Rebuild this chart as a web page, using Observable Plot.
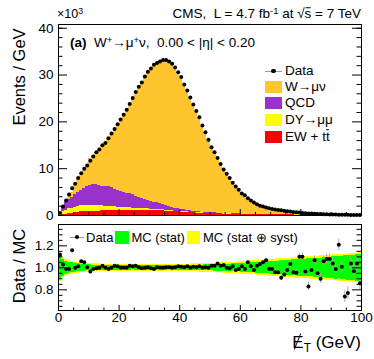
<!DOCTYPE html>
<html><head><meta charset="utf-8">
<script src="https://cdn.jsdelivr.net/npm/d3@7"></script>
<script src="https://cdn.jsdelivr.net/npm/@observablehq/plot@0.6"></script>
<style>
body{margin:0;background:#fff;}
#c{position:relative;width:374px;height:359px;font-family:"Liberation Sans",Arial,Helvetica,sans-serif;color:#000;overflow:hidden;}
.t{position:absolute;white-space:nowrap;line-height:1;}
.box{position:absolute;}
sup{font-size:70%;vertical-align:0;position:relative;top:-0.45em;}
.ov{display:inline-block;position:relative;}
.ov::before{content:"";position:absolute;left:0.5px;right:0.5px;top:-0.5px;height:1px;background:#000;}
</style></head><body><div id="c"></div>
<script>
// ---- data (1 GeV bins, 0..100 GeV) ----
const binLow = d3.range(0, 100);
const dataVals = [0.55,1.9,3.2,4.5,5.8,6.8,8.0,9.0,10.0,10.7, 11.7,12.6,13.5,14.1,15.0,15.5,16.5,17.5,18.5,19.5, 20.5,21.5,22.6,23.8,25.1,26.4,27.5,28.4,29.7,30.7, 31.4,32.2,32.6,32.9,33.2,33.2,32.9,32.4,31.6,30.6, 29.6,28.0,26.7,25.2,23.7,22.3,21.0,19.2,17.8,16.2, 14.6,13.5,12.3,11.0,9.8,8.9,8.0,7.0,6.2,5.5, 4.7,4.3,3.7,3.2,2.8,2.4,2.1,1.9,1.7,1.55, 1.4,1.3,1.2,1.1,1.0,0.92,0.84,0.76,0.68,0.62, 0.56,0.5,0.45,0.41,0.37,0.33,0.3,0.27,0.25,0.23, 0.21,0.19,0.17,0.16,0.15,0.14,0.13,0.12,0.11,0.1];
const ewVals = [0.05,0.2,0.3,0.4,0.5,0.6,0.68,0.75,0.8,0.85, 0.88,0.9,0.93,0.95,0.98,1.0,1.02,1.05,1.07,1.08, 1.1,1.1,1.1,1.12,1.12,1.12,1.1,1.1,1.1,1.08, 1.08,1.05,1.02,1.0,0.97,0.93,0.9,0.86,0.8,0.75, 0.72,0.68,0.64,0.6,0.56,0.53,0.5,0.47,0.45,0.42, 0.4,0.38,0.36,0.34,0.32,0.3,0.29,0.27,0.26,0.25, 0.24,0.23,0.22,0.21,0.2,0.19,0.18,0.17,0.16,0.15, 0.15,0.14,0.13,0.13,0.12,0.12,0.11,0.11,0.1,0.1, 0.09,0.09,0.08,0.08,0.08,0.07,0.07,0.07,0.06,0.06, 0.06,0.06,0.05,0.05,0.05,0.05,0.05,0.04,0.04,0.04];
const dyVals = [0.15,0.55,0.85,1.0,1.1,1.2,1.25,1.28,1.3,1.3, 1.27,1.25,1.17,1.15,1.07,1.0,0.98,0.9,0.83,0.72, 0.65,0.6,0.55,0.53,0.48,0.48,0.45,0.4,0.35,0.32, 0.27,0.27,0.26,0.22,0.21,0.19,0.18,0.14,0.15,0.13, 0.12,0.12,0.11,0.1,0.1,0.09,0.08,0.08,0.07,0.07, 0.06,0.06,0.05,0.05,0.05,0.04,0.04,0.04,0.04,0.03, 0.03,0.03,0.03,0.03,0.02,0.02,0.02,0.02,0.02,0.02, 0.02,0.02,0.02,0.01,0.01,0.01,0.01,0.01,0.01,0.01, 0.01,0.01,0.01,0.01,0.01,0.01,0.01,0.01,0.01,0.01, 0.01,0.01,0.01,0.01,0,0,0,0,0,0];
const qcdVals = [0.25,0.95,1.6,2.0,2.3,2.6,2.9,3.3,3.7,4.1, 4.3,4.5,4.5,4.4,4.25,4.2,4.3,3.95,3.7,3.6, 3.45,3.3,3.15,2.95,2.8,2.5,2.35,2.1,1.95,1.8, 1.65,1.53,1.42,1.28,1.12,0.98,0.92,0.8,0.65,0.57, 0.51,0.4,0.35,0.3,0.24,0.23,0.2,0.18,0.15,0.13, 0.12,0.1,0.1,0.09,0.08,0.07,0.07,0.06,0.06,0.05, 0.05,0.05,0.04,0.04,0.04,0.03,0.03,0.03,0.03,0.03, 0.03,0.02,0.02,0.02,0.02,0.02,0.02,0.02,0.02,0.01, 0.01,0.01,0.01,0.01,0.01,0.01,0.01,0.01,0.01,0.01, 0.01,0.01,0.01,0.01,0.01,0.01,0.01,0.01,0.01,0.01];
const wVals = [0.04,0.15,0.45,1.15,1.1,2.4,3.05,3.16,3.72,4.4, 5.65,6.08,6.94,7.6,8.4,9.3,10.37,11.6,12.54,13.81, 15.3,16.5,17.8,18.73,20.33,21.78,23.46,24.89,26.3,27.35, 28.49,29.68,29.74,30.4,30.9,30.93,30.74,30.6,29.84,28.7, 27.96,26.66,25.2,24.2,22.57,21.34,19.91,18.47,17.04,15.58, 13.73,12.7,11.32,10.3,9.11,8.49,7.62,6.53,5.97,5.23, 4.31,4.03,3.23,2.87,2.6,2.11,1.8,1.59,1.38,1.37, 1.21,1.17,1.08,1.05,0.91,0.79,0.67,0.65,0.58,0.44, 0.4,0.41,0.44,0.32,0.25,0.26,0.24,0.16,0.15,0.13, 0.12,0.11,0.07,0.09,0.14,0.12,0.065,0.074,0.056,0.066];
const ratioVals = [1.12,1.03,0.99,0.99,1.16,1.0,1.015,1.06,1.05,1.005, 0.967,0.99,0.997,1.0,1.02,1.0,0.99,1.0,1.02,1.015, 1.0,1.0,1.0,1.02,1.015,1.02,1.005,0.997,1.0,1.005, 0.997,0.99,1.005,1.0,1.0,1.005,1.005,1.0,1.005,1.015, 1.01,1.005,1.015,1.0,1.01,1.005,1.015,1.0,1.005,1.0, 1.02,1.02,1.04,1.02,1.025,1.0,0.997,1.015,0.98,0.99, 1.015,0.99,1.05,1.015,0.98,1.02,1.035,1.05,1.07,0.99, 0.99,0.96,0.96,0.91,0.94,0.98,1.035,0.96,0.955,1.1, 1.1,0.967,0.83,0.98,1.07,0.95,0.9,1.06,1.08,1.08, 1.04,0.99,1.21,1.01,0.74,0.77,1.04,0.97,1.04,0.86];
const ratioErr = [0.02,0.012,0.009,0.008,0.007,0.006,0.006,0.005,0.005,0.005, 0.005,0.005,0.005,0.005,0.005,0.005,0.005,0.005,0.005,0.005, 0.005,0.005,0.005,0.005,0.005,0.005,0.005,0.005,0.005,0.005, 0.005,0.005,0.005,0.005,0.005,0.005,0.005,0.005,0.005,0.005, 0.005,0.005,0.005,0.005,0.005,0.006,0.006,0.006,0.006,0.007, 0.007,0.007,0.008,0.008,0.009,0.009,0.01,0.01,0.011,0.012, 0.012,0.013,0.014,0.015,0.016,0.017,0.018,0.019,0.02,0.021, 0.022,0.023,0.024,0.025,0.026,0.027,0.028,0.03,0.031,0.033, 0.034,0.035,0.036,0.038,0.039,0.04,0.042,0.043,0.045,0.046, 0.048,0.05,0.052,0.053,0.055,0.057,0.059,0.06,0.062,0.065];
const statVals = [0.11,0.08,0.06,0.05,0.045,0.04,0.035,0.032,0.03,0.028, 0.026,0.025,0.024,0.023,0.022,0.022,0.021,0.021,0.02,0.02, 0.02,0.019,0.02,0.02,0.019,0.02,0.02,0.019,0.02,0.02, 0.019,0.02,0.02,0.019,0.02,0.02,0.019,0.02,0.02,0.02, 0.02,0.021,0.021,0.022,0.022,0.023,0.024,0.025,0.026,0.027, 0.028,0.029,0.03,0.031,0.032,0.033,0.034,0.035,0.036,0.037, 0.038,0.04,0.042,0.044,0.046,0.048,0.05,0.052,0.054,0.056, 0.058,0.06,0.062,0.064,0.066,0.068,0.07,0.072,0.074,0.076, 0.078,0.08,0.083,0.081,0.086,0.089,0.087,0.092,0.095,0.097, 0.1,0.103,0.101,0.106,0.11,0.113,0.111,0.116,0.12,0.125];
const systVals = [0.12,0.09,0.075,0.065,0.058,0.052,0.048,0.045,0.043,0.041, 0.039,0.037,0.036,0.035,0.034,0.033,0.032,0.032,0.031,0.031, 0.03,0.03,0.03,0.03,0.03,0.03,0.03,0.03,0.03,0.03, 0.03,0.03,0.03,0.03,0.03,0.03,0.03,0.03,0.03,0.03, 0.031,0.032,0.033,0.034,0.035,0.036,0.037,0.038,0.039,0.04, 0.042,0.043,0.045,0.046,0.048,0.049,0.05,0.052,0.053,0.055, 0.057,0.059,0.061,0.063,0.065,0.067,0.069,0.071,0.073,0.075, 0.077,0.079,0.081,0.083,0.085,0.087,0.089,0.091,0.093,0.095, 0.097,0.099,0.101,0.103,0.105,0.107,0.109,0.111,0.113,0.115, 0.117,0.119,0.121,0.123,0.125,0.127,0.129,0.131,0.133,0.135];
const procNames = ["EW + tt̄", "DY→μμ", "QCD", "W→μν"];
const procColors = ["#ff0000", "#ffff00", "#9932cc", "#fec52e"];
const xMajor = [0, 20, 40, 60, 80, 100];
const xMinor = [5,10,15,25,30,35,45,50,55,65,70,75,85,90,95];
const yMajorTop = [0, 10, 20, 30, 40];
const yMinorTop = [2,4,6,8,12,14,16,18,22,24,26,28,32,34,36,38,40];
const yMajorRatio = [0.8, 1, 1.2];
const yMinorRatio = [0.65,0.7,0.75,0.85,0.9,0.95,1.05,1.1,1.15,1.25,1.3,1.35];

// ---- tables ----
const seriesVals = [ewVals, dyVals, qcdVals, wVals];
const stackRows = [];
procNames.forEach((p, k) => seriesVals[k].forEach((v, i) => stackRows.push({lo: binLow[i], hi: binLow[i] + 1, p, v})));
const pts = binLow.map((b, i) => ({c: b + 0.5, lo: b, hi: b + 1, d: dataVals[i], r: ratioVals[i], e: ratioErr[i], st: statVals[i], sy: systVals[i]}));

const FONT = "Liberation Sans, Arial, Helvetica, sans-serif";
const W = 374, ML = 58, MR = 13;
const FW = W - ML - MR;

function tickMarks(FH, yMaj, yMin, yMajLen, yMinLen, xMajLen, xMinLen) {
  return [
    Plot.tickY(yMaj, {y: d => d, insetRight: FW - yMajLen, stroke: "black"}),
    Plot.tickY(yMin, {y: d => d, insetRight: FW - yMinLen, stroke: "black"}),
    Plot.tickY(yMaj, {y: d => d, insetLeft: FW - yMajLen, stroke: "black"}),
    Plot.tickY(yMin, {y: d => d, insetLeft: FW - yMinLen, stroke: "black"}),
    Plot.tickX(xMajor, {x: d => d, insetTop: FH - xMajLen, stroke: "black"}),
    Plot.tickX(xMinor, {x: d => d, insetTop: FH - xMinLen, stroke: "black"})
  ];
}

const topH = 222, topMT = 24, topMB = 7;
const topPlot = Plot.plot({
  width: W, height: topH, marginLeft: ML, marginRight: MR, marginTop: topMT, marginBottom: topMB,
  style: {fontFamily: FONT, fontSize: "13.5px", background: "transparent", overflow: "visible"},
  x: {domain: [0, 100], axis: null},
  y: {domain: [0, 40.8], axis: null},
  color: {domain: procNames, range: procColors},
  marks: [
    Plot.rectY(stackRows, {x1: "lo", x2: "hi", y: "v", fill: "p", order: procNames, shapeRendering: "crispEdges"}),
    Plot.dot(pts, {x: "c", y: "d", r: 2, fill: "black", stroke: null}),
    ...tickMarks(topH - topMT - topMB, yMajorTop, yMinorTop, 9, 4.5, 6, 3),
    Plot.axisY({ticks: yMajorTop, tickSize: 0, tickPadding: 5, fontSize: 13.5, label: null}),
    Plot.frame({stroke: "black"})
  ]
});

const botH = 137, botMT = 2, botMB = 49;
const botPlot = Plot.plot({
  width: W, height: botH, marginLeft: ML, marginRight: MR, marginTop: botMT, marginBottom: botMB,
  style: {fontFamily: FONT, fontSize: "13.5px", background: "transparent", overflow: "visible"},
  x: {domain: [0, 100], axis: null},
  y: {domain: [0.612, 1.394], axis: null},
  marks: [
    Plot.rectY(pts, {x1: "lo", x2: "hi", y1: d => 1 - d.sy, y2: d => 1 + d.sy, fill: "#ffff00", shapeRendering: "crispEdges"}),
    Plot.rectY(pts, {x1: "lo", x2: "hi", y1: d => 1 - d.st, y2: d => 1 + d.st, fill: "#00ff00", shapeRendering: "crispEdges"}),
    Plot.ruleX(pts, {x: "c", y1: d => d.r - d.e, y2: d => d.r + d.e, stroke: "#aaaaaa", strokeWidth: 1}),
    Plot.dot(pts, {x: "c", y: "r", r: 2, fill: "black", stroke: null}),
    ...tickMarks(botH - botMT - botMB, yMajorRatio, yMinorRatio, 9, 4.5, 5, 2.5),
    Plot.axisY({ticks: yMajorRatio, tickSize: 0, tickPadding: 5, fontSize: 13.5, label: null}),
    Plot.axisX({ticks: xMajor, tickSize: 0, tickPadding: 2, fontSize: 13.5, label: null}),
    Plot.frame({stroke: "black"})
  ]
});

const C = document.getElementById("c");
topPlot.style.position = "absolute"; topPlot.style.left = "0px"; topPlot.style.top = "0px";
botPlot.style.position = "absolute"; botPlot.style.left = "0px"; botPlot.style.top = topH + "px";
C.appendChild(topPlot); C.appendChild(botPlot);

function txt(html, x, y, size, anchor = "start", extra = "") {
  const d = document.createElement("div");
  d.className = "t";
  d.innerHTML = html;
  const tx = anchor === "end" ? "-100%" : anchor === "middle" ? "-50%" : "0";
  d.style.cssText += `left:${x}px;top:${y}px;font-size:${size}px;transform:translate(${tx},-50%);${extra}`;
  C.appendChild(d);
  return d;
}
function box(x, y, w, h, color, extra = "") {
  const d = document.createElement("div");
  d.className = "box";
  d.style.cssText = `left:${x}px;top:${y}px;width:${w}px;height:${h}px;background:${color};${extra}`;
  C.appendChild(d);
}
function dataMarker(x1, x2, y) {
  box(x1, y - 0.5, x2 - x1, 1, "#999");
  const cx = (x1 + x2) / 2;
  box(cx - 2.2, y - 2.2, 4.4, 4.4, "#000", "border-radius:50%;");
}

// header texts
txt("×10<sup>3</sup>", 57, 14, 12.5);
txt("CMS,&nbsp; L = 4.7 fb<sup>-1</sup> at √<span class='ov'>s</span> = 7 TeV", 361, 14, 13.5, "end");
txt("<b>(a)</b>&nbsp; W<sup>+</sup>→μ<sup>+</sup>ν,&nbsp; 0.00 &lt; |η| &lt; 0.20", 70, 43, 13.5);

// top legend
dataMarker(265, 282, 71);
txt("Data", 285, 71, 13.5);
const legY = [86.5, 103, 119.5, 136.5];
const legOrder = [3, 2, 1, 0];
legOrder.forEach((k, j) => {
  box(265, legY[j] - 6, 17, 12, procColors[k]);
  txt(procNames[k] === "EW + tt̄" ? "EW + t<span class='ov'>t</span>" : procNames[k], 285, legY[j], 13.5);
});

// ratio legend
dataMarker(70, 84, 237);
txt("Data", 86, 237, 13);
box(115, 231, 13.5, 12.5, "#00ff00");
txt("MC (stat)", 131.5, 237, 13);
box(186.5, 231, 13.5, 12.5, "#ffff00");
txt("MC (stat ⊕ syst)", 203, 237, 13);

// axis titles
txt("Events / GeV", 19, 77, 16.5, "middle", "transform:translate(-50%,-50%) rotate(-90deg);");
txt("Data / MC", 19, 266, 16.5, "middle", "transform:translate(-50%,-50%) rotate(-90deg);");
txt("E<sub style='font-size:70%;vertical-align:0;position:relative;top:0.3em'>T</sub> (GeV)", 361, 342, 17, "end");
// slash through the E of the missing-ET title
box(296.5, 333, 1.2, 17, "#000", "transform:rotate(22deg);");
</script></body></html>
